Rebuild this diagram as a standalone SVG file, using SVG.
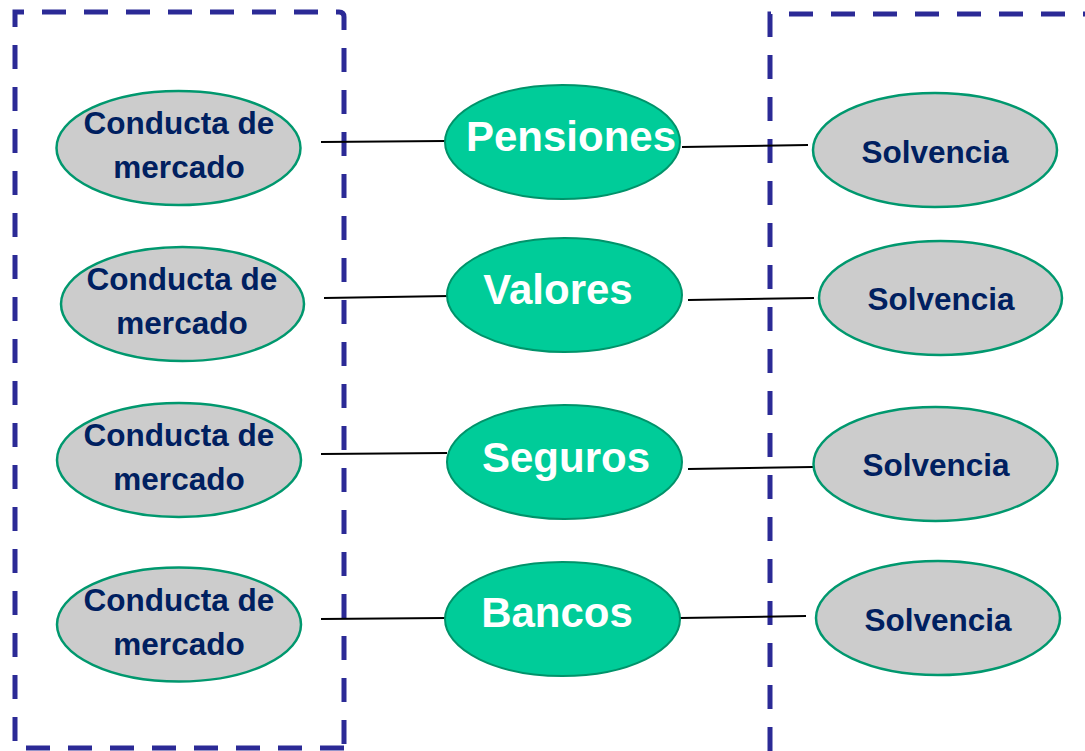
<svg xmlns="http://www.w3.org/2000/svg" width="1085" height="751" viewBox="0 0 1085 751">
<style>
.box{fill:none;stroke:#2B2A96;stroke-width:5;stroke-dasharray:24 18}
.gray{fill:#CCCCCC;stroke:#00986E;stroke-width:2.5}
.green{fill:#00CC99;stroke:#00936A;stroke-width:2}
.gt{font-family:"Liberation Sans",Arial,sans-serif;font-weight:bold;font-size:31.5px;fill:#002060;text-anchor:middle}
.wt{font-family:"Liberation Sans",Arial,sans-serif;font-weight:bold;font-size:42px;fill:#FFFFFF;text-anchor:middle}
.ln{stroke:#000000;stroke-width:2;fill:none}
</style>
<rect width="1085" height="751" fill="#FFFFFF"/>
<path class="box" d="M344,748 L15,748 L15,12 L339,12 Q344,12 344,17 Z"/>
<path class="box" d="M770,751 L770,14 L1090,14"/>
<g id="connectors">
<line class="ln" x1="321" y1="142" x2="445" y2="141"/>
<line class="ln" x1="682" y1="147" x2="808" y2="145"/>
<line class="ln" x1="324" y1="298" x2="450" y2="296"/>
<line class="ln" x1="688" y1="300" x2="814" y2="298"/>
<line class="ln" x1="321" y1="454" x2="447" y2="453"/>
<line class="ln" x1="688" y1="469" x2="813" y2="467"/>
<line class="ln" x1="321" y1="619" x2="445" y2="618"/>
<line class="ln" x1="680" y1="618" x2="806" y2="616"/>
</g>
<g id="cm1"><ellipse class="gray" cx="178.5" cy="148" rx="122" ry="57"/><text class="gt" x="179" y="134">Conducta de</text><text class="gt" x="179" y="178">mercado</text></g>
<g id="cm2"><ellipse class="gray" cx="182.5" cy="304" rx="121.5" ry="57"/><text class="gt" x="182" y="290">Conducta de</text><text class="gt" x="182" y="334">mercado</text></g>
<g id="cm3"><ellipse class="gray" cx="179" cy="460" rx="122" ry="57"/><text class="gt" x="179" y="446">Conducta de</text><text class="gt" x="179" y="490">mercado</text></g>
<g id="cm4"><ellipse class="gray" cx="179" cy="624.5" rx="122" ry="57"/><text class="gt" x="179" y="611">Conducta de</text><text class="gt" x="179" y="655">mercado</text></g>
<g id="pensiones"><ellipse class="green" cx="562.5" cy="142" rx="117.5" ry="57"/><text class="wt" x="571" y="151">Pensiones</text></g>
<g id="valores"><ellipse class="green" cx="564.5" cy="295" rx="117.5" ry="57"/><text class="wt" x="558" y="304">Valores</text></g>
<g id="seguros"><ellipse class="green" cx="564.5" cy="462" rx="117.5" ry="57"/><text class="wt" x="566" y="472">Seguros</text></g>
<g id="bancos"><ellipse class="green" cx="562.5" cy="619" rx="117.5" ry="57"/><text class="wt" x="557" y="627">Bancos</text></g>
<g id="solv1"><ellipse class="gray" cx="935" cy="150" rx="122" ry="57"/><text class="gt" x="935" y="163">Solvencia</text></g>
<g id="solv2"><ellipse class="gray" cx="940.5" cy="298" rx="121.5" ry="57"/><text class="gt" x="941" y="310">Solvencia</text></g>
<g id="solv3"><ellipse class="gray" cx="935.5" cy="464" rx="122" ry="57"/><text class="gt" x="936" y="476">Solvencia</text></g>
<g id="solv4"><ellipse class="gray" cx="938" cy="618" rx="122" ry="57"/><text class="gt" x="938" y="631">Solvencia</text></g>
</svg>
